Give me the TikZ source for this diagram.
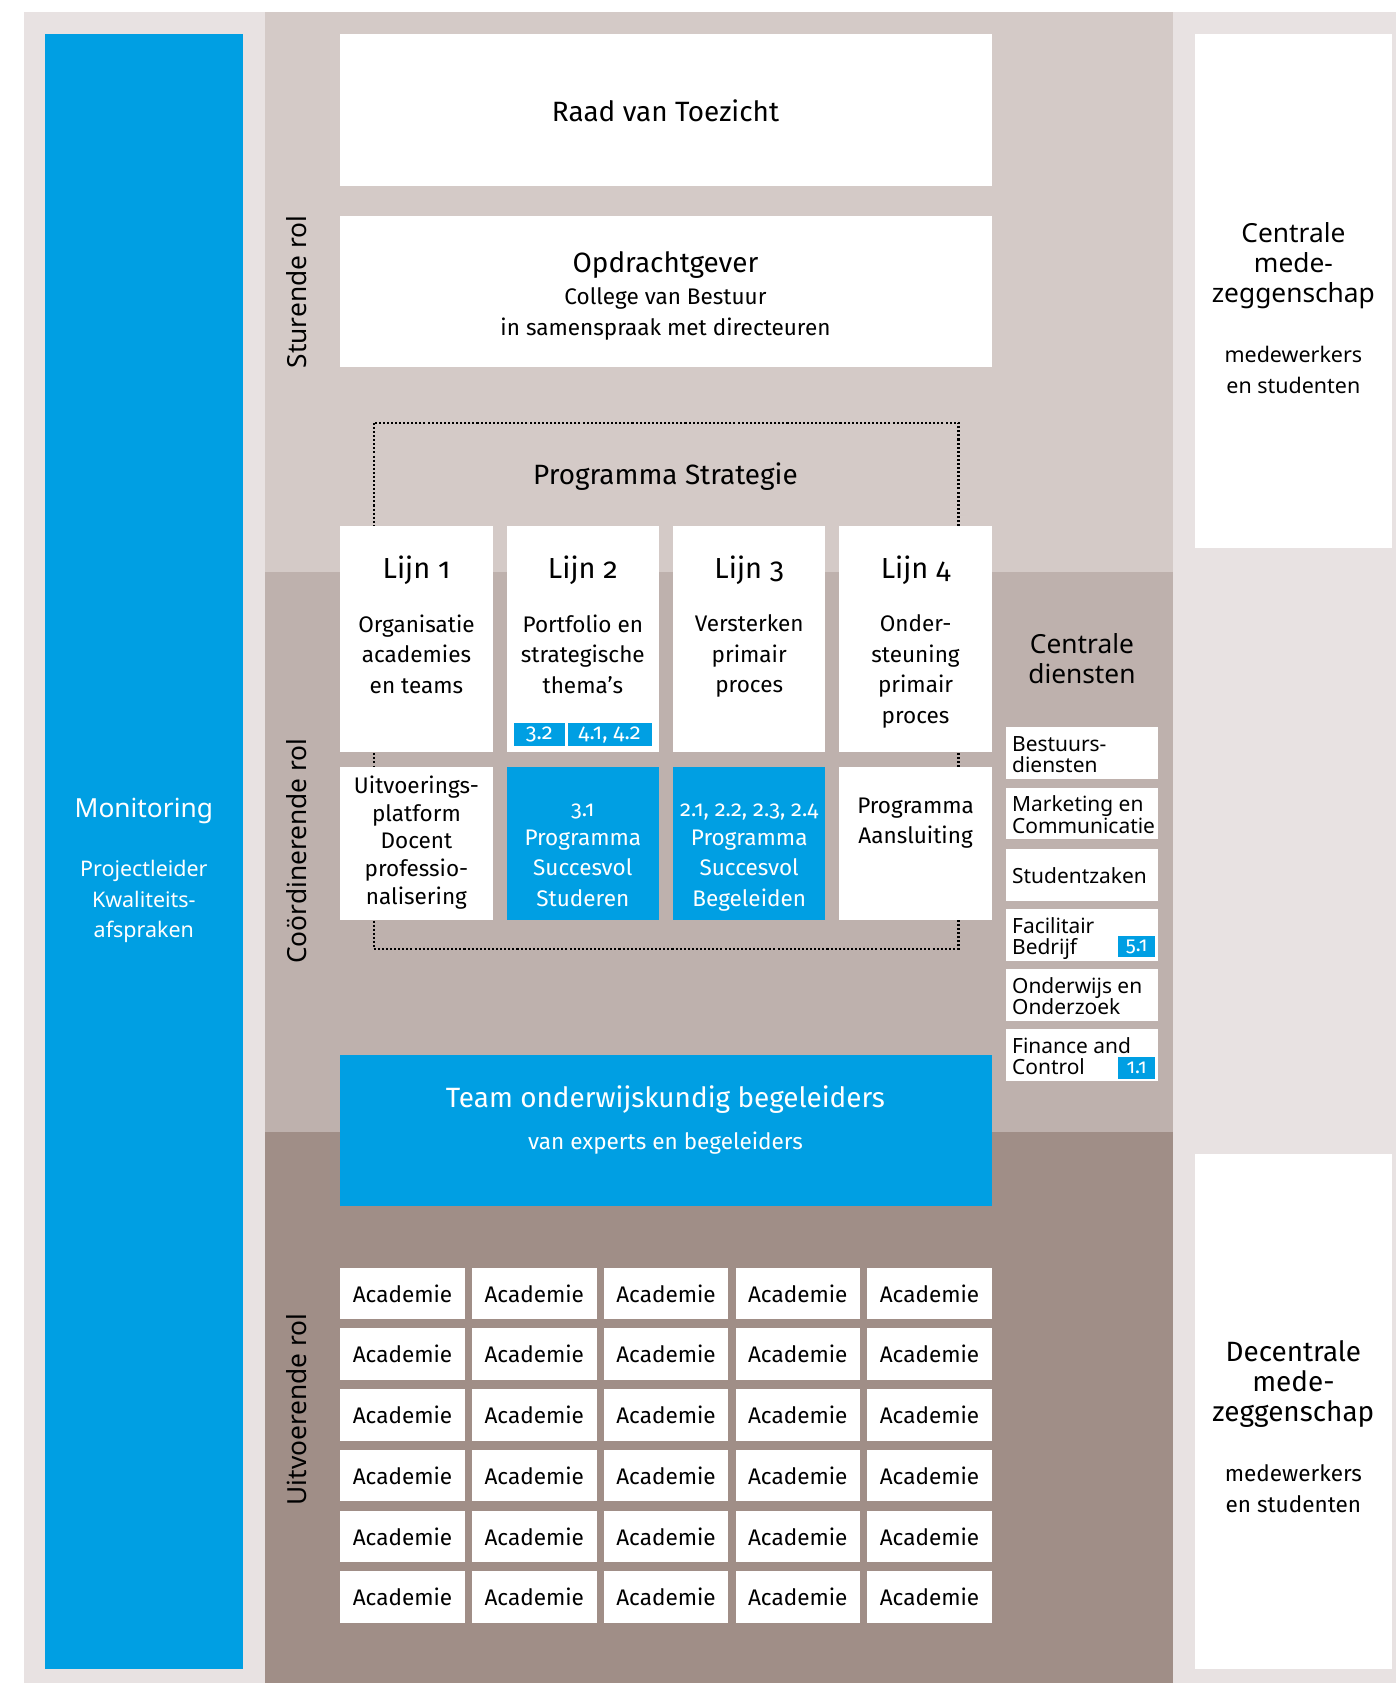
\documentclass[tikz,border=0pt]{standalone}
\usepackage{fontspec}
\setmainfont{Fira Sans}[Numbers=OldStyle]
\newfontfamily\widefont{Noto Sans}
\definecolor{bgl}{RGB}{232,226,226}
\definecolor{bandA}{RGB}{212,202,199}
\definecolor{bandB}{RGB}{190,177,173}
\definecolor{bandC}{RGB}{160,142,135}
\definecolor{hblue}{RGB}{0,159,227}
\newcommand\FBig{\fontsize{26}{28}\selectfont}
\newcommand\FLijn{\fontsize{27}{28}\selectfont}
\newcommand\FMed{\fontsize{21}{28.5}\selectfont}
\newcommand\FTag{\fontsize{20.5}{20}\selectfont}
\newcommand\FTagS{\fontsize{19}{19}\selectfont}
\newcommand\WBig{\widefont\fontsize{24.5}{28}\selectfont}
\newcommand\WMed{\widefont\fontsize{20}{28.5}\selectfont}
\newcommand\WBox{\widefont\fontsize{19.5}{20}\selectfont}
\newcommand\bx[7]{\node[#6, minimum width={(#4-#2)*1pt}, minimum height={(#5-#3)*1pt}] (#1) at ({(#2+#4)/2},{(#3+#5)/2}) {#7};}
\begin{document}
\begin{tikzpicture}[x=1pt,y=-1pt,
  every node/.style={inner sep=0pt, outer sep=0pt},
  st/.style={execute at begin node=\strut, execute at end node=\strut, yshift=-4pt},
  area/.style={fill=#1, draw=none},
  wbox/.style={fill=white, draw=none},
  bbox/.style={fill=hblue, draw=none, text=white},
  tagbox/.style={fill=hblue, draw=none, text=white, font=\FTag},
  txt/.style={align=center, font=\FMed, st},
  ttl/.style={align=center, font=\FBig, st},
  wtxt/.style={align=center, text=white, font=\FMed, st},
  dots/.style={line width=1.9pt, dash pattern=on 1.9pt off 1.9pt}
]
\useasboundingbox (0,0) rectangle (1301,1568);
\fill[white] (0,0) rectangle (1301,1568);
% backgrounds
\bx{bg}{22}{11}{1301}{1568}{area=bgl}{}
\bx{bandS}{247}{11}{1093}{533}{area=bandA}{}
\bx{bandC}{247}{533}{1093}{1055}{area=bandB}{}
\bx{bandU}{247}{1055}{1093}{1568}{area=bandC}{}
% monitoring
\bx{mon}{42}{32}{226}{1555}{bbox}{}
\node[text=white, font=\WBig, align=center, st] (monT) at (134,752) {Monitoring};
\node[text=white, font=\WMed, align=center, st] (monS) at (134,838) {Projectleider\\Kwaliteits-\\afspraken};
% role labels
\node[rotate=90, font=\WBig, st] (rolS) at (276,272) {Sturende rol};
\node[rotate=90, font=\WBig, st] (rolC) at (276,793) {Coördinerende rol};
\node[rotate=90, font=\WBig, st] (rolU) at (276,1313) {Uitvoerende rol};
% top boxes
\bx{rvt}{317}{32}{924}{173}{wbox}{}
\node[ttl] (rvtT) at (620,103) {Raad van Toezicht};
\bx{opd}{317}{201}{924}{342}{wbox}{}
\node[ttl] (opdT) at (620,244) {Opdrachtgever};
\node[txt] (opdS) at (620,274) {College van Bestuur};
\node[txt] (opdS2) at (620,303) {in samenspraak met directeuren};
% programma strategie
\draw[dots] (348,394) rectangle (893,884);
\node[ttl] (progT) at (620,441) {Programma Strategie};
% lijn boxes
\bx{l1}{317}{490}{459}{701}{wbox}{}
\bx{l2}{472}{490}{614}{701}{wbox}{}
\bx{l3}{627}{490}{769}{701}{wbox}{}
\bx{l4}{782}{490}{924}{701}{wbox}{}
\node[ttl, font=\FLijn] (l1T) at (388,529) {Lijn 1};
\node[ttl, font=\FLijn] (l2T) at (543,529) {Lijn 2};
\node[ttl, font=\FLijn] (l3T) at (698,529) {Lijn 3};
\node[ttl, font=\FLijn] (l4T) at (853,529) {Lijn 4};
\node[txt] (l1B) at (388,609.5) {Organisatie\\academies\\en teams};
\node[txt] (l2B) at (543,609.5) {Portfolio en\\strategische\\thema’s};
\node[txt] (l3B) at (698,609.5) {Versterken\\primair\\proces};
\node[txt] (l4B) at (853,623.5) {Onder-\\steuning\\primair\\proces};
\bx{tag32}{479}{674}{526}{695}{tagbox}{3.2}
\bx{tag41}{529}{674}{607}{695}{tagbox}{4.1, 4.2}
% second row
\bx{r1}{317}{715}{459}{857}{wbox}{}
\bx{r2}{472}{715}{614}{857}{bbox}{}
\bx{r3}{627}{715}{769}{857}{bbox}{}
\bx{r4}{782}{715}{924}{857}{wbox}{}
\node[txt, font=\fontsize{21}{25.8}\selectfont] (r1B) at (388,782.5) {Uitvoerings-\\platform\\Docent\\professio-\\nalisering};
\node[wtxt, font=\FTag] (r2N) at (543,753) {3.1};
\node[wtxt] (r2B) at (543,809) {Programma\\Succesvol\\Studeren};
\node[wtxt, font=\FTag] (r3N) at (698,753) {2.1, 2.2, 2.3, 2.4};
\node[wtxt] (r3B) at (698,809) {Programma\\Succesvol\\Begeleiden};
\node[txt] (r4B) at (853,765) {Programma\\Aansluiting};
% team
\bx{team}{317}{983}{924}{1124}{bbox}{}
\node[wtxt, font=\FBig] (teamT) at (620,1022) {Team onderwijskundig begeleiders};
\node[wtxt] (teamS) at (620,1061) {van experts en begeleiders};
% academies
\foreach \r in {0,...,5}{
  \foreach \c in {0,...,4}{
    \pgfmathsetmacro\xa{317+\c*122.75}
    \pgfmathsetmacro\ya{1181+\r*56.6}
    \node[wbox, minimum width=116pt, minimum height=48pt, anchor=north west, font=\FMed] (ac\r\c) at (\xa,\ya) {Academie};
  }
}
% centrale diensten
\node[font=\WBig, align=center, st] (cdT) at (1008,614) {Centrale\\diensten};
\bx{cd1}{937}{677}{1079}{726}{wbox}{}
\bx{cd2}{937}{734}{1079}{782}{wbox}{}
\bx{cd3}{937}{791}{1079}{839}{wbox}{}
\bx{cd4}{937}{847}{1079}{895}{wbox}{}
\bx{cd5}{937}{903}{1079}{951}{wbox}{}
\bx{cd6}{937}{959}{1079}{1007}{wbox}{}
\node[font=\WBox, align=left, anchor=west, st] (cd1T) at (943,702) {Bestuurs-\\diensten};
\node[font=\WBox, align=left, anchor=west, st] (cd2T) at (943,758) {Marketing en\\Communicatie};
\node[font=\WBox, align=left, anchor=west, st] (cd3T) at (943,815) {Studentzaken};
\node[font=\WBox, align=left, anchor=west, st] (cd4T) at (943,871) {Facilitair\\Bedrijf};
\node[font=\WBox, align=left, anchor=west, st] (cd5T) at (943,927) {Onderwijs en\\Onderzoek};
\node[font=\WBox, align=left, anchor=west, st] (cd6T) at (943,983) {Finance and\\Control};
\bx{tag51}{1042}{872}{1076}{892}{tagbox, font=\FTagS}{5.1}
\bx{tag11}{1042}{985}{1076}{1005}{tagbox, font=\FTagS}{1.1}
% medezeggenschap
\bx{cmz}{1113}{32}{1297}{511}{wbox}{}
\node[font=\WBig, align=center, st] (cmzT) at (1205,245) {Centrale\\mede-\\zeggenschap};
\node[font=\WMed, align=center, st] (cmzS) at (1205,345) {medewerkers\\en studenten};
\bx{dmz}{1113}{1075}{1297}{1555}{wbox}{}
\node[font=\FBig, align=center, st] (dmzT) at (1205,1287) {Decentrale\\mede-\\zeggenschap};
\node[txt] (dmzS) at (1205,1387) {medewerkers\\en studenten};
\end{tikzpicture}
\end{document}
